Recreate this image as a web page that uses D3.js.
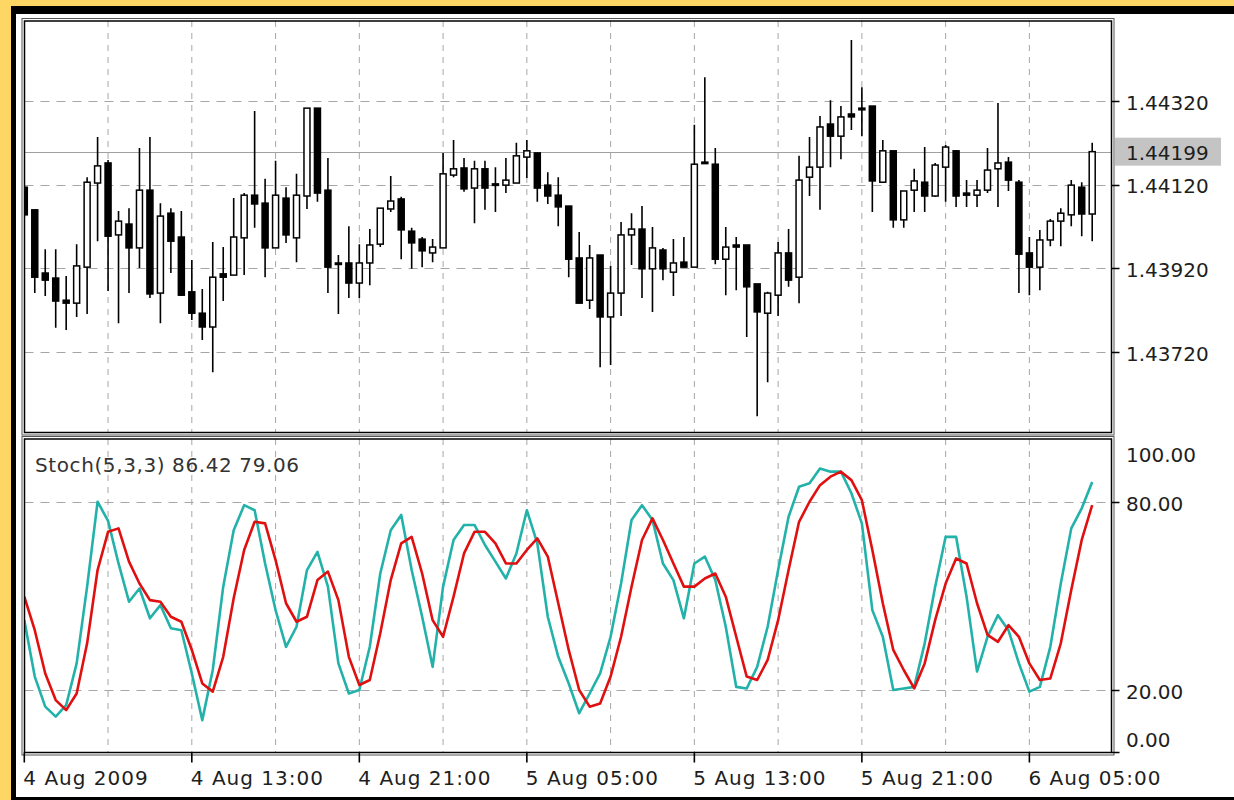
<!DOCTYPE html>
<html>
<head>
<meta charset="utf-8">
<script src="https://cdn.jsdelivr.net/npm/d3@7/dist/d3.min.js"></script>
<style>
  html, body { margin: 0; padding: 0; background: #fdd663; }
  svg { display: block; }
</style>
</head>
<body>
<div id="chart"></div>
<script>
// EURUSD-style M30 bars, 4 Aug 2009 05:00 onwards
const opens = [1.44114,1.44060,1.43909,1.43897,1.43844,1.43837,1.43923,1.44124,1.44172,1.44000,
  1.44026,1.43969,1.44107,1.43861,1.44052,1.43995,1.43864,1.43813,1.43780,1.43907,
  1.43904,1.43993,1.44095,1.44076,1.43969,1.44088,1.43993,1.44093,1.44303,1.44107,
  1.43933,1.43933,1.43885,1.43933,1.43978,1.44062,1.44086,1.44009,1.43990,1.43957,
  1.43969,1.44143,1.44160,1.44112,1.44158,1.44122,1.44119,1.44124,1.44186,1.44196,
  1.44119,1.44095,1.44069,1.43945,1.43844,1.43952,1.43804,1.43861,1.44000,1.44014,
  1.43919,1.43964,1.43911,1.43935,1.43923,1.44174,1.44169,1.43942,1.43976,1.43976,
  1.43883,1.43813,1.43856,1.43957,1.43899,1.44138,1.44162,1.44265,1.44236,1.44289,
  1.44303,1.44308,1.44126,1.44201,1.44036,1.44107,1.44126,1.44093,1.44162,1.44201,
  1.44100,1.44095,1.44107,1.44158,1.44174,1.44126,1.43957,1.43923,1.43988,1.44033,
  1.44048,1.44114,1.44050]
const highs = [1.44119,1.44060,1.43966,1.43966,1.43902,1.43978,1.44138,1.44234,1.44179,1.44057,
  1.44064,1.44208,1.44234,1.44076,1.44064,1.44057,1.43940,1.43871,1.43983,1.43971,
  1.44088,1.44100,1.44296,1.44134,1.44177,1.44114,1.44146,1.44303,1.44303,1.44184,
  1.43952,1.44021,1.43978,1.44014,1.44064,1.44141,1.44091,1.44017,1.43995,1.43990,
  1.44196,1.44227,1.44184,1.44177,1.44177,1.44162,1.44184,1.44220,1.44227,1.44196,
  1.44150,1.44138,1.44069,1.44007,1.43976,1.43952,1.43926,1.44031,1.44052,1.44069,
  1.44019,1.43969,1.43990,1.43995,1.44263,1.44377,1.44208,1.44019,1.43995,1.43976,
  1.43883,1.43864,1.43983,1.44014,1.44189,1.44234,1.44284,1.44322,1.44308,1.44466,
  1.44353,1.44308,1.44227,1.44201,1.44105,1.44158,1.44210,1.44172,1.44215,1.44201,
  1.44131,1.44131,1.44208,1.44315,1.44186,1.44131,1.43995,1.44012,1.44038,1.44064,
  1.44131,1.44126,1.44220]
const lows = [1.44043,1.43861,1.43854,1.43778,1.43773,1.43804,1.43811,1.43985,1.43866,1.43789,
  1.43861,1.43921,1.43849,1.43789,1.43909,1.43854,1.43797,1.43749,1.43672,1.43842,
  1.43904,1.43904,1.44017,1.43899,1.43969,1.43981,1.43935,1.44062,1.44079,1.43861,
  1.43811,1.43849,1.43849,1.43880,1.43971,1.44055,1.43942,1.43919,1.43923,1.43935,
  1.43969,1.44138,1.44103,1.44028,1.44060,1.44055,1.44100,1.44124,1.44136,1.44079,
  1.44074,1.44021,1.43899,1.43837,1.43823,1.43684,1.43689,1.43806,1.43928,1.43849,
  1.43816,1.43892,1.43854,1.43923,1.43923,1.44172,1.43930,1.43856,1.43868,1.43756,
  1.43567,1.43648,1.43806,1.43876,1.43837,1.44093,1.44060,1.44162,1.44181,1.44251,
  1.44236,1.44055,1.44124,1.44017,1.44017,1.44055,1.44055,1.44091,1.44079,1.44067,
  1.44067,1.44067,1.44100,1.44067,1.44105,1.43861,1.43856,1.43868,1.43973,1.43973,
  1.44021,1.43997,1.43985]
const closes = [1.44048,1.43899,1.43892,1.43842,1.43837,1.43926,1.44126,1.44165,1.43997,1.44033,
  1.43969,1.44107,1.43859,1.44045,1.43985,1.43856,1.43813,1.43780,1.43899,1.43899,
  1.43995,1.44095,1.44074,1.43969,1.44095,1.44000,1.44095,1.44303,1.44100,1.43923,
  1.43930,1.43885,1.43933,1.43976,1.44064,1.44081,1.44012,1.43981,1.43962,1.43971,
  1.44146,1.44158,1.44110,1.44158,1.44112,1.44119,1.44131,1.44189,1.44201,1.44112,
  1.44093,1.44067,1.43942,1.43837,1.43945,1.43804,1.43861,1.44000,1.44014,1.43919,
  1.43969,1.43919,1.43933,1.43923,1.44169,1.44172,1.43942,1.43971,1.43971,1.43876,
  1.43816,1.43861,1.43957,1.43892,1.44131,1.44162,1.44258,1.44236,1.44282,1.44282,
  1.44299,1.44129,1.44201,1.44036,1.44105,1.44129,1.44093,1.44167,1.44210,1.44093,
  1.44095,1.44107,1.44155,1.44172,1.44131,1.43954,1.43923,1.43988,1.44033,1.44052,
  1.44119,1.44050,1.44199]

// Stochastic (5,3,3): %K main line and %D signal line
const stochK = [42.3,24.3,14.7,11.5,15.2,28.5,53,80.1,74,60.4,
  48.2,52.4,42.9,47.1,39.7,39.1,25.3,10.4,26.4,53,
  71,79,77.4,60.4,45.5,33.8,40.2,58.3,64.1,53,
  28.5,18.9,20,33.8,57.2,71,75.9,58.3,43.4,27.4,
  53,67.9,72.7,72.7,66.3,61,55.6,63.6,77.4,66.8,
  43.4,30.6,22.1,12.6,18.9,25.3,37,54,74.3,79,
  74.3,60.4,55.1,42.9,60.4,62.6,55.1,40.2,21,20.5,
  27.4,40.2,58.3,75.3,84.9,86,90.7,89.7,89.7,82.8,
  73.2,45.5,37,20,20.5,21,34.9,53,68.9,68.9,
  49.8,25.9,37,43.9,39.1,28.5,19.5,21,33.8,54,
  71.6,78,86.42]
const stochD = [49.8,39.1,25.3,16.8,13.6,18.9,34.9,58.3,70.5,71.6,
  61,54,48.7,48.2,43.4,41.8,32.8,22.1,19.5,30.6,
  49.3,64.7,73.7,73.2,61.5,47.7,41.8,43.4,55.1,57.8,
  48.7,30.6,21.6,23.2,38.1,55.1,66.8,68.9,57.2,42.3,
  37,49.8,63.6,70.5,70.5,66.8,60.4,60.4,64.7,68.4,
  62.6,47.7,32.8,20,14.7,15.7,24.3,37,53,67.9,
  74.8,67.9,60.4,53,53,55.6,57.2,49.8,37,24.3,
  23.2,29.6,42.3,58.3,73.7,80.1,85.4,88.1,89.7,87,
  80.6,64.7,47.7,32.8,26.4,20.5,28.5,42.3,54,62,
  60.4,47.7,37.6,35.4,40.7,37,28.5,23.2,23.7,34.9,
  51.9,67.9,79.06]

const priceTicks = [1.43720, 1.43920, 1.44120, 1.44320]
const lastPrice = 1.44199
const stochGrid = [20, 80]
const stochLabels = [100, 80, 20, 0]
const gridBars = [8, 16, 24, 32, 40, 48, 56, 64, 72, 80, 88, 96]
const timeTickBars = [0, 16, 32, 48, 64, 80, 96]
const timeTickLabels = ['4 Aug 2009', '4 Aug 13:00', '4 Aug 21:00', '5 Aug 05:00',
  '5 Aug 13:00', '5 Aug 21:00', '6 Aug 05:00']

const W = 1234, H = 800
const left = 24.5, right = 1111.5
const price = { top: 21, bottom: 432.5 }
const stoch = { top: 439, bottom: 752.5 }
const font = "'DejaVu Sans', Verdana, sans-serif"
const ink = '#1e1e1e'

const svg = d3.select('#chart').append('svg').attr('width', W).attr('height', H)

// yellow surround, black frame, white sheet
svg.append('rect').attr('width', W).attr('height', H).attr('fill', '#fdd663')
svg.append('rect').attr('x', 11).attr('y', 6).attr('width', W - 11).attr('height', H - 6).attr('fill', '#000')
svg.append('rect').attr('x', 16).attr('y', 14).attr('width', W - 16).attr('height', 783).attr('fill', '#fff')

const x = d3.scaleLinear().domain([0, opens.length - 1]).range([24.3, 1092.2])
const yP = d3.scaleLinear().domain([1.435267, 1.445136]).range([433, 20])
const yS = d3.scaleLinear().domain([0, 100]).range([752.7, 439.4])

const defs = svg.append('defs')
defs.append('clipPath').attr('id', 'clipP').append('rect')
  .attr('x', left).attr('y', price.top).attr('width', right - left).attr('height', price.bottom - price.top)
defs.append('clipPath').attr('id', 'clipS').append('rect')
  .attr('x', left).attr('y', stoch.top).attr('width', right - left).attr('height', stoch.bottom - stoch.top)

const gridColor = '#a6a6a6'

function panelFrame(p) {
  svg.append('rect').attr('x', left - 2.5).attr('y', p.top - 2.5)
    .attr('width', right - left + 5).attr('height', p.bottom - p.top + 5)
    .attr('fill', 'none').attr('stroke', '#555').attr('stroke-width', 1)
  svg.append('rect').attr('x', left).attr('y', p.top)
    .attr('width', right - left).attr('height', p.bottom - p.top)
    .attr('fill', 'none').attr('stroke', '#000').attr('stroke-width', 1.5)
}

// ---------- price panel ----------
const gP = svg.append('g').attr('clip-path', 'url(#clipP)')

gP.selectAll('.vgrid').data(gridBars).enter().append('line')
  .attr('x1', d => x(d)).attr('x2', d => x(d))
  .attr('y1', price.top).attr('y2', price.bottom)
  .attr('stroke', gridColor).attr('stroke-dasharray', '6,6')

gP.selectAll('.hgrid').data(priceTicks).enter().append('line')
  .attr('x1', left).attr('x2', right)
  .attr('y1', d => Math.round(yP(d)) + 0.5).attr('y2', d => Math.round(yP(d)) + 0.5)
  .attr('stroke', gridColor).attr('stroke-dasharray', '9,7')

gP.append('line')
  .attr('x1', left).attr('x2', right)
  .attr('y1', Math.round(yP(lastPrice)) + 0.5).attr('y2', Math.round(yP(lastPrice)) + 0.5)
  .attr('stroke', '#a0a0a0').attr('stroke-width', 1)

const bars = d3.range(opens.length)
gP.selectAll('.wick').data(bars).enter().append('line')
  .attr('x1', i => x(i)).attr('x2', i => x(i))
  .attr('y1', i => yP(highs[i])).attr('y2', i => yP(lows[i]))
  .attr('stroke', '#000').attr('stroke-width', 1.6)

gP.selectAll('.body').data(bars).enter().append('rect')
  .attr('x', i => x(i) - 3)
  .attr('width', 6)
  .attr('y', i => yP(Math.max(opens[i], closes[i])))
  .attr('height', i => Math.max(1.5, Math.abs(yP(opens[i]) - yP(closes[i]))))
  .attr('fill', i => closes[i] > opens[i] ? '#fff' : '#000')
  .attr('stroke', '#000').attr('stroke-width', 1.5)

panelFrame(price)

// price axis
const axP = svg.append('g')
axP.selectAll('line').data(priceTicks).enter().append('line')
  .attr('x1', right).attr('x2', right + 8)
  .attr('y1', d => Math.round(yP(d)) + 0.5).attr('y2', d => Math.round(yP(d)) + 0.5)
  .attr('stroke', '#000').attr('stroke-width', 1.5)
axP.selectAll('text').data(priceTicks).enter().append('text')
  .attr('x', 1126).attr('y', d => yP(d) + 8.5)
  .attr('font-family', font).attr('font-size', 20).attr('fill', ink)
  .text(d => d.toFixed(5))

axP.append('rect').attr('x', 1115).attr('y', yP(lastPrice) - 14)
  .attr('width', 106).attr('height', 28).attr('fill', '#c4c4c4')
axP.append('text').attr('x', 1126).attr('y', yP(lastPrice) + 8.5)
  .attr('font-family', font).attr('font-size', 20).attr('fill', ink)
  .text(lastPrice.toFixed(5))

// ---------- stochastic panel ----------
const gS = svg.append('g').attr('clip-path', 'url(#clipS)')

gS.selectAll('.vgrid').data(gridBars).enter().append('line')
  .attr('x1', d => x(d)).attr('x2', d => x(d))
  .attr('y1', stoch.top).attr('y2', stoch.bottom)
  .attr('stroke', gridColor).attr('stroke-dasharray', '6,6')

gS.selectAll('.hgrid').data(stochGrid).enter().append('line')
  .attr('x1', left).attr('x2', right)
  .attr('y1', d => Math.round(yS(d)) + 0.5).attr('y2', d => Math.round(yS(d)) + 0.5)
  .attr('stroke', gridColor).attr('stroke-dasharray', '9,7')

const line = arr => d3.line().x((d, i) => x(i)).y(d => yS(d))(arr)

gS.append('path').attr('d', line(stochK))
  .attr('fill', 'none').attr('stroke', '#22b2aa').attr('stroke-width', 2.6)
  .attr('stroke-linejoin', 'round')
gS.append('path').attr('d', line(stochD))
  .attr('fill', 'none').attr('stroke', '#e01010').attr('stroke-width', 2.6)
  .attr('stroke-linejoin', 'round')

svg.append('text').attr('x', 35).attr('y', 472)
  .attr('font-family', font).attr('font-size', 20).attr('letter-spacing', 0.6).attr('fill', '#333')
  .text(`Stoch(5,3,3) ${stochK[stochK.length - 1].toFixed(2)} ${stochD[stochD.length - 1].toFixed(2)}`)

panelFrame(stoch)

// stoch axis
const axS = svg.append('g')
axS.selectAll('line').data(stochGrid).enter().append('line')
  .attr('x1', right).attr('x2', right + 8)
  .attr('y1', d => Math.round(yS(d)) + 0.5).attr('y2', d => Math.round(yS(d)) + 0.5)
  .attr('stroke', '#000').attr('stroke-width', 1.5)
axS.selectAll('text').data(stochLabels).enter().append('text')
  .attr('x', 1126)
  .attr('y', d => d === 100 ? 462 : d === 0 ? 747 : yS(d) + 8.5)
  .attr('font-family', font).attr('font-size', 20).attr('fill', ink)
  .text(d => d.toFixed(2))
axS.append('line').attr('x1', right).attr('x2', right + 8)
  .attr('y1', stoch.bottom).attr('y2', stoch.bottom).attr('stroke', '#000').attr('stroke-width', 1.5)

// time axis
const axT = svg.append('g')
axT.selectAll('line').data(timeTickBars).enter().append('line')
  .attr('x1', d => x(d)).attr('x2', d => x(d))
  .attr('y1', stoch.bottom).attr('y2', stoch.bottom + 10)
  .attr('stroke', '#000').attr('stroke-width', 1.6)
axT.selectAll('text').data(timeTickBars).enter().append('text')
  .attr('x', d => x(d) - 1).attr('y', 785)
  .attr('font-family', font).attr('font-size', 20).attr('letter-spacing', 1).attr('fill', ink)
  .text((d, i) => timeTickLabels[i])
</script>
</body>
</html>
